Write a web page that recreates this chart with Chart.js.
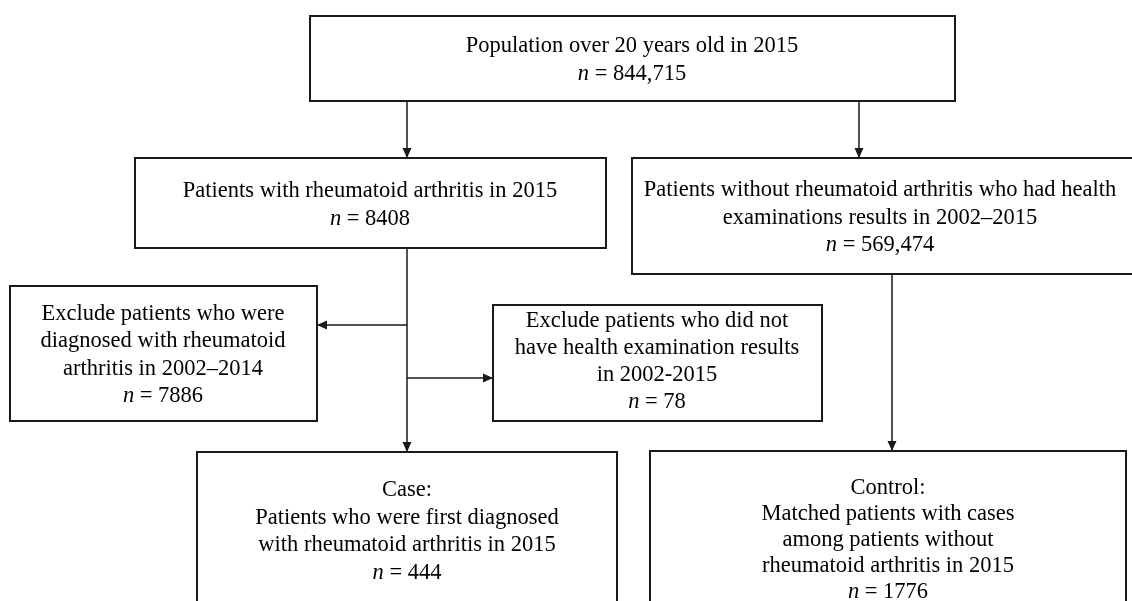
<!DOCTYPE html>
<html>
<head>
<meta charset="utf-8">
<script src="https://cdn.jsdelivr.net/npm/chart.js@4/dist/chart.umd.min.js"></script>
<style>
  html, body { margin: 0; padding: 0; background: #fff; }
  #wrap { width: 1132px; height: 601px; }
</style>
</head>
<body>
<div id="wrap"><canvas id="flow" width="1132" height="601"></canvas></div>
<script>
// Box texts and counts
const boxLines = [
    ['Population over 20 years old in 2015'],
    ['Patients with rheumatoid arthritis in 2015'],
    ['Patients without rheumatoid arthritis who had health', 'examinations results in 2002\u20132015'],
    ['Exclude patients who were', 'diagnosed with rheumatoid', 'arthritis in 2002\u20132014'],
    ['Exclude patients who did not', 'have health examination results', 'in 2002-2015'],
    ['Case:', 'Patients who were first diagnosed', 'with rheumatoid arthritis in 2015'],
    ['Control:', 'Matched patients with cases', 'among patients without', 'rheumatoid arthritis in 2015']
];
const boxCounts = ['844,715', '8408', '569,474', '7886', '78', '444', '1776'];

// Layout (canvas units, y down)
const boxLeft   = [310, 135, 632, 10, 493, 197, 650];
const boxTop    = [16, 158, 158, 286, 305, 452, 451];
const boxRight  = [955, 606, 1152, 317, 822, 617, 1126];
const boxBottom = [101, 248, 274, 421, 421, 640, 640];
const textCx    = [632, 370, 880, 163, 657, 407, 888];
const textCy    = [60.5, 205, 218, 355, 362, 531.5, 540];
const lineGap   = [28, 28, 27.5, 27.5, 27, 27.5, 26];

// Connectors: from -> to (arrow at the end)
const links = [
    [[407, 101], [407, 158]],
    [[859, 101], [859, 158]],
    [[407, 248], [407, 452]],
    [[407, 325], [317, 325]],
    [[407, 378], [493, 378]],
    [[892, 274], [892, 451]]
];

const ink = '#1a1a1a';
const fontSize = 22.5;
const fontFamily = '"Liberation Serif", "Times New Roman", serif';

const flowPlugin = {
    id: 'flow',
    afterDatasetsDraw(chart) {
        const ctx = chart.ctx;
        const xs = chart.scales.x;
        const ys = chart.scales.y;
        ctx.save();

        // arrowheads at the end of each connector
        chart.data.datasets.forEach((ds, i) => {
            const pts = chart.getDatasetMeta(i).data;
            const a = pts[pts.length - 2], b = pts[pts.length - 1];
            const ang = Math.atan2(b.y - a.y, b.x - a.x);
            const len = 10, half = 4.5;
            ctx.fillStyle = ink;
            ctx.beginPath();
            ctx.moveTo(b.x, b.y);
            ctx.lineTo(b.x - len * Math.cos(ang) - half * Math.sin(ang), b.y - len * Math.sin(ang) + half * Math.cos(ang));
            ctx.lineTo(b.x - len * Math.cos(ang) + half * Math.sin(ang), b.y - len * Math.sin(ang) - half * Math.cos(ang));
            ctx.closePath();
            ctx.fill();
        });

        // boxes
        ctx.strokeStyle = ink;
        ctx.lineWidth = 2;
        boxLines.forEach((lines, i) => {
            const x0 = xs.getPixelForValue(boxLeft[i]);
            const x1 = xs.getPixelForValue(boxRight[i]);
            const y0 = ys.getPixelForValue(boxTop[i]);
            const y1 = ys.getPixelForValue(boxBottom[i]);
            ctx.strokeRect(x0, y0, x1 - x0, y1 - y0);

            const all = lines.length + 1;
            const cx = xs.getPixelForValue(textCx[i]);
            const cy = ys.getPixelForValue(textCy[i]);
            const top = cy - (all - 1) / 2 * lineGap[i];
            ctx.fillStyle = '#000';
            ctx.textBaseline = 'middle';
            ctx.textAlign = 'center';
            ctx.font = fontSize + 'px ' + fontFamily;
            lines.forEach((t, k) => ctx.fillText(t, cx, top + k * lineGap[i]));

            // count line with italic n
            const yN = top + lines.length * lineGap[i];
            const rest = ' = ' + boxCounts[i];
            ctx.font = 'italic ' + fontSize + 'px ' + fontFamily;
            const wn = ctx.measureText('n').width;
            ctx.font = fontSize + 'px ' + fontFamily;
            const wr = ctx.measureText(rest).width;
            const start = cx - (wn + wr) / 2;
            ctx.textAlign = 'left';
            ctx.font = 'italic ' + fontSize + 'px ' + fontFamily;
            ctx.fillText('n', start, yN);
            ctx.font = fontSize + 'px ' + fontFamily;
            ctx.fillText(rest, start + wn, yN);
        });
        ctx.restore();
    }
};

new Chart(document.getElementById('flow'), {
    type: 'scatter',
    data: {
        datasets: links.map(l => ({
            data: l.map(p => ({ x: p[0], y: p[1] })),
            showLine: true,
            borderColor: ink,
            borderWidth: 1.5,
            pointRadius: 0,
            fill: false,
            tension: 0
        }))
    },
    options: {
        responsive: false,
        animation: false,
        layout: { padding: 0 },
        plugins: { legend: { display: false }, tooltip: { enabled: false } },
        scales: {
            x: { type: 'linear', min: 0, max: 1132, display: false },
            y: { type: 'linear', min: 0, max: 601, reverse: true, display: false }
        }
    },
    plugins: [flowPlugin]
});
</script>
</body>
</html>
